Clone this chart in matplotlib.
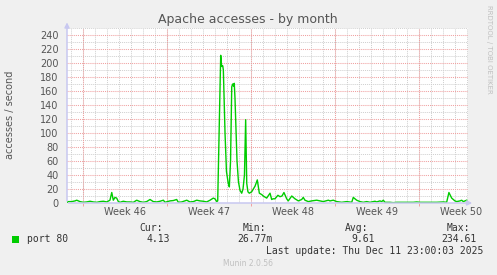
import matplotlib
matplotlib.use("Agg")
import matplotlib.pyplot as plt
import numpy as np

# data (x in days from left edge of the graph)
days = [0.00, 0.11, 0.39, 0.67, 0.81, 0.94, 1.08, 1.36, 1.64, 1.92, 2.19, 2.48, 2.75, 3.03,
        3.31, 3.58, 3.73, 3.86, 4.00, 4.14, 4.28, 4.42, 4.69, 4.98, 5.25, 5.53, 5.81, 6.08,
        6.36, 6.64, 6.92, 7.19, 7.48, 7.75, 8.03, 8.17, 8.58, 8.86, 9.14, 9.28, 9.56, 9.83,
        9.98, 10.25, 10.53, 10.81, 11.08, 11.36, 11.64, 11.92, 12.19, 12.33, 12.48, 12.56,
        12.81, 12.89, 12.98, 13.03, 13.17, 13.29, 13.44, 13.53, 13.63, 13.73, 13.81, 13.88,
        13.94, 14.00, 14.17, 14.29, 14.42, 14.56, 14.67, 14.79, 14.89, 14.98, 15.08, 15.19,
        15.39, 15.67, 15.86, 16.03, 16.23, 16.36, 16.64, 16.92, 17.06, 17.17, 17.33, 17.58,
        17.75, 17.92, 18.08, 18.31, 18.44, 18.73, 19.00, 19.28, 19.56, 19.69, 19.83, 20.11,
        20.39, 20.81, 21.08, 21.36, 21.78, 21.92, 22.19, 22.48, 22.89, 23.31, 23.73, 23.86,
        24.14, 24.42, 24.69, 24.98, 25.25, 25.67, 25.81, 26.08, 26.23, 26.36, 26.50, 26.92,
        27.19, 27.48, 28.03, 28.86, 29.14, 29.42, 30.25, 30.81, 31.36, 31.64, 31.83, 32.06,
        32.33, 32.48, 32.75, 32.89, 33.03, 33.31]
port80 = [1, 2, 2, 3, 4, 3, 2, 1, 1.5, 2.5, 1.5, 1, 2, 2.5,
          1.5, 4, 15, 4, 8, 7, 2, 1, 2.5, 1.5, 1.5, 1, 4, 2,
          1, 2, 5, 2, 1.5, 2.5, 4, 1, 3, 3.5, 5, 1, 1.5, 3,
          4, 1.5, 2, 4, 3, 2.5, 1.5, 4, 7, 6, 2, 3,
          211, 195, 196, 190, 100, 45, 28, 23, 60, 166, 170, 167,
          171, 150, 60, 30, 18, 14, 20, 40, 119, 28, 16, 14,
          16, 24, 33, 14, 12, 10, 7, 14, 5, 6, 6, 11,
          9, 10, 15, 6, 3, 10, 6, 3, 5, 8, 4, 2,
          3, 4, 3, 2, 4, 3, 4, 2, 1, 2, 1, 8,
          4, 2, 1, 2, 1, 2.5, 1.5, 3, 2, 4, 1, 1,
          0.5, 1, 1, 1, 1.5, 1, 1, 1, 1.5, 1, 15, 7,
          3, 2, 3, 4, 2, 4]
week_labels = ["Week 46", "Week 47", "Week 48", "Week 49", "Week 50"]
week_starts = [1.33, 8.33, 15.33, 22.33, 29.33]
yticks = list(range(0, 241, 20))

W, H = 497, 275
def px(x, y):
    return x / W, 1 - y / H

fig = plt.figure(figsize=(W / 100, H / 100), dpi=100, facecolor="#f0f0f0")
l, b = px(67, 203)
r, t = px(468, 28)
ax = fig.add_axes([l, b, r - l, t - b], facecolor="white")
ax.set_xlim(0, 33.42)
ax.set_ylim(0, 250)

dot = (0, (1, 1))
# minor grid
for d in np.arange(0.33, 33.4, 1.0):
    ax.axvline(d, color="#cfcfcf", lw=0.7, ls=dot, zorder=1)
for v in range(10, 251, 20):
    ax.axhline(v, color="#cfcfcf", lw=0.7, ls=dot, zorder=1)
# major grid
for d in week_starts:
    ax.axvline(d, color="#f0a0a0", lw=0.75, ls=dot, zorder=2)
for v in yticks[1:]:
    ax.axhline(v, color="#f0a0a0", lw=0.75, ls=dot, zorder=2)

ax.plot(days, port80, color="#00cc00", lw=1.0, zorder=3)

for s in ax.spines.values():
    s.set_visible(False)
ax.set_yticks(yticks)
ax.set_yticklabels([str(v) for v in yticks], fontsize=7, color="#555555")
ax.tick_params(axis="y", length=0, pad=6)
ax.set_xticks(week_starts)
ax.set_xticklabels([])
ax.tick_params(axis="x", length=2, color="#f0a0a0", width=0.7)
for d, lab in zip(week_starts, week_labels):
    ax.text(d + 3.5, -6, lab, ha="center", va="top", fontsize=7, color="#555555")

# axis lines with arrows
ax.annotate("", xy=(0, 262), xytext=(0, -1), xycoords="data",
            arrowprops=dict(arrowstyle="-|>", color="#c8c8f0", lw=1.1, mutation_scale=7),
            annotation_clip=False)
ax.annotate("", xy=(34.0, 0), xytext=(-0.1, 0), xycoords="data",
            arrowprops=dict(arrowstyle="-|>", color="#c8c8f0", lw=1.1, mutation_scale=7),
            annotation_clip=False)

fig.text(*px(248, 20), "Apache accesses - by month", ha="center", va="center",
         fontsize=9, color="#555555")
fig.text(*px(10, 115), "accesses / second", ha="center", va="center", rotation=90,
         fontsize=7, color="#555555")
fig.text(*px(489, 5), "RRDTOOL / TOBI OETIKER", ha="center", va="top", rotation=270,
         fontsize=5, color="#c0c0c0")

mono = "DejaVu Sans Mono"
fig.patches.append(plt.Rectangle(px(12, 243), 7 / W, 7 / H, transform=fig.transFigure,
                                 facecolor="#00cc00", edgecolor="none"))
fig.text(*px(27, 239), "port 80", ha="left", va="center", family=mono, fontsize=7, color="#333333")
cols = [("Cur:", "4.13", 163), ("Min:", "26.77m", 266), ("Avg:", "9.61", 368), ("Max:", "234.61", 470)]
for head, val, xr in cols:
    fig.text(*px(xr, 228), head, ha="right", va="center", family=mono, fontsize=7, color="#333333")
    fig.text(*px(xr + 7, 239), val, ha="right", va="center", family=mono, fontsize=7, color="#333333")
fig.text(*px(483, 251), "Last update: Thu Dec 11 23:00:03 2025", ha="right", va="center",
         family=mono, fontsize=7, color="#333333")
fig.text(*px(248, 264), "Munin 2.0.56", ha="center", va="center", fontsize=5.5, color="#c0c0c0")

fig.savefig("out.png", dpi=100, facecolor=fig.get_facecolor())
